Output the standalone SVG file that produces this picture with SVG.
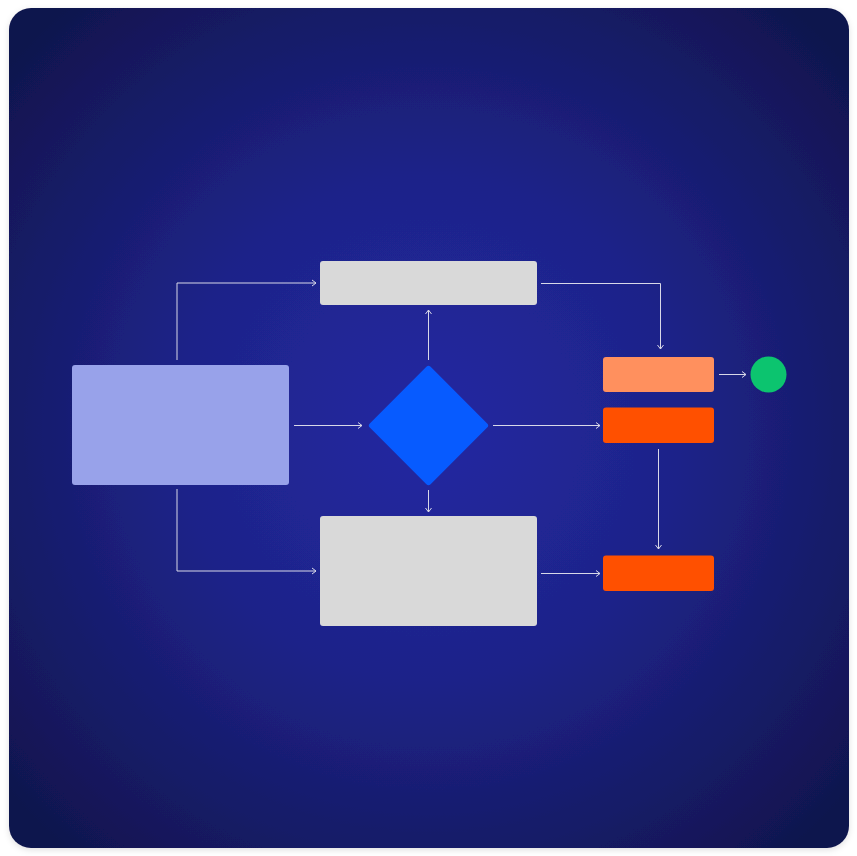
<svg xmlns="http://www.w3.org/2000/svg" width="857" height="856" viewBox="0 0 857 856">
  <defs>
    <radialGradient id="bg" cx="429" cy="428" r="560" gradientUnits="userSpaceOnUse">
      <stop offset="0" stop-color="#2329a2"/>
      <stop offset="0.45" stop-color="#1e2389"/>
      <stop offset="1" stop-color="#10154d"/>
    </radialGradient>
    <filter id="shadow" x="-5%" y="-5%" width="110%" height="110%">
      <feDropShadow dx="0" dy="2" stdDeviation="3" flood-color="#000" flood-opacity="0.12"/>
    </filter>
    <marker id="arrow" viewBox="0 0 8 8" refX="7" refY="4" markerWidth="8" markerHeight="8" markerUnits="userSpaceOnUse" orient="auto">
      <path d="M3,1 L7,4 L3,7" fill="none" stroke="#d8d8e8" stroke-width="1"/>
    </marker>
    <style>
      .conn { fill: none; stroke: #d8d8e8; stroke-width: 1; marker-end: url(#arrow); }
      .gray { fill: #d9d9d9; }
      .orange { fill: #ff5000; }
    </style>
  </defs>
  <rect x="0" y="0" width="857" height="856" fill="#ffffff"/>
  <rect x="9" y="8" width="840" height="840" rx="22" fill="url(#bg)" filter="url(#shadow)"/>

  <g id="connectors">
    <path class="conn" d="M177,360 V283 H316"/>
    <path class="conn" d="M177,489 V571 H316"/>
    <path class="conn" d="M294,425.5 H362"/>
    <path class="conn" d="M493,425.5 H600"/>
    <path class="conn" d="M428.5,360 V310"/>
    <path class="conn" d="M428.5,490 V512"/>
    <path class="conn" d="M541,283.5 H660.5 V349"/>
    <path class="conn" d="M719,374.5 H746"/>
    <path class="conn" d="M658.5,449 V549"/>
    <path class="conn" d="M541,573.5 H600"/>
  </g>

  <g id="start">
    <rect x="72" y="365" width="217" height="120" rx="3" fill="#98a2ea"/>
  </g>
  <g id="top-box">
    <rect class="gray" x="320" y="261" width="217" height="44" rx="3"/>
  </g>
  <g id="decision">
    <rect x="385.5" y="382.5" width="86" height="86" rx="3" fill="#075bff" transform="rotate(45 428.5 425.5)"/>
  </g>
  <g id="bottom-box">
    <rect class="gray" x="320" y="516" width="217" height="110" rx="3"/>
  </g>
  <g id="peach">
    <rect x="603" y="357" width="111" height="35" rx="3" fill="#ff905e"/>
  </g>
  <g id="orange-mid">
    <rect class="orange" x="603" y="407.5" width="111" height="35.5" rx="3"/>
  </g>
  <g id="orange-bottom">
    <rect class="orange" x="603" y="555.5" width="111" height="35.5" rx="3"/>
  </g>
  <g id="end">
    <circle cx="768.5" cy="374.5" r="18" fill="#0cc46f"/>
  </g>
</svg>
